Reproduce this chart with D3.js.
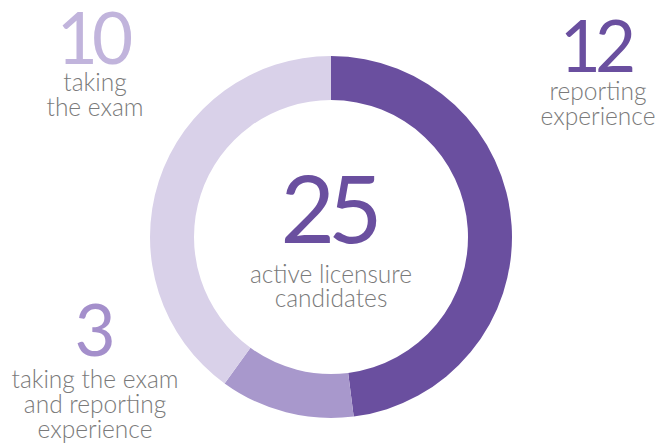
<!DOCTYPE html>
<html>
<head>
<meta charset="utf-8">
<script src="https://cdn.jsdelivr.net/npm/d3@7"></script>
<style>
  body { margin: 0; background: #fff; }
  text { font-family: Lato, "Open Sans", sans-serif; }
</style>
</head>
<body>
<script>
// data
var categories = ["reporting experience", "taking the exam and reporting experience", "taking the exam"]
var values = [12, 3, 10]
var total = 25
var totalLabel = ["active licensure", "candidates"]
var labelLines = [["reporting", "experience"], ["taking the exam", "and reporting", "experience"], ["taking", "the exam"]]

var width = 662, height = 444
var cx = 331, cy = 237
var outerR = 181, innerR = 137

var sliceColors = ["#6a4f9f", "#a898cc", "#d9d1e9"]
var numColors = ["#6a4f9f", "#a48fcb", "#c1b4dc"]
var grey = "#7a7a7a"

var svg = d3.select("body").append("svg")
  .attr("width", width)
  .attr("height", height)

var pie = d3.pie().sort(null).value(d => d)
var arc = d3.arc().innerRadius(innerR).outerRadius(outerR)

svg.append("g")
  .attr("transform", "translate(" + cx + "," + cy + ")")
  .selectAll("path")
  .data(pie(values))
  .enter()
  .append("path")
  .attr("d", arc)
  .attr("fill", (d, i) => sliceColors[i])

// centre number
var center = svg.append("g").attr("text-anchor", "middle")
center.append("text")
  .attr("x", cx).attr("y", 243)
  .attr("font-size", 94)
  .attr("letter-spacing", -7)
  .attr("dx", -3)
  .attr("fill", numColors[0])
  .text(total)
center.selectAll("text.sub")
  .data(totalLabel)
  .enter().append("text")
  .attr("class", "sub")
  .attr("x", cx)
  .attr("y", (d, i) => 283 + i * 24)
  .attr("font-size", 24.5)
  .attr("font-weight", 300)
  .attr("fill", grey)
  .text(d => d)

// outer labels: number + text lines
var labelPos = [
  {x: 598, numY: 72, lineY: 100},
  {x: 95, numY: 356, lineY: 388},
  {x: 95, numY: 64, lineY: 91}
]

values.forEach(function (v, i) {
  var g = svg.append("g").attr("text-anchor", "middle")
  g.append("text")
    .attr("x", labelPos[i].x).attr("y", labelPos[i].numY)
    .attr("font-size", 71)
    .attr("letter-spacing", -6)
    .attr("dx", -3)
    .attr("fill", numColors[i])
    .text(v)
  g.selectAll("text.line")
    .data(labelLines[i])
    .enter().append("text")
    .attr("class", "line")
    .attr("x", labelPos[i].x)
    .attr("y", (d, j) => labelPos[i].lineY + j * 25)
    .attr("font-size", 24.5)
    .attr("font-weight", 300)
    .attr("fill", grey)
    .text(d => d)
})
</script>
</body>
</html>
